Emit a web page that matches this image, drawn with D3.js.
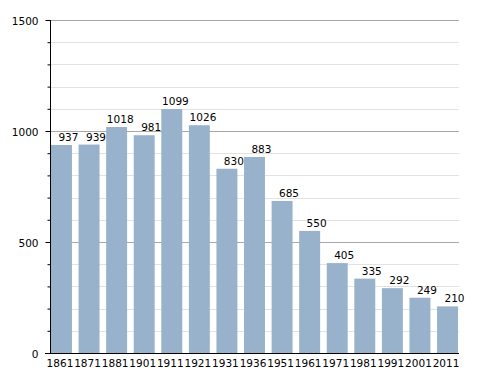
<!DOCTYPE html>
<html><head><meta charset="utf-8">
<script src="https://cdn.jsdelivr.net/npm/d3@7"></script>
<style>body{margin:0;background:#fff}svg{display:block}text{font-family:"DejaVu Sans",sans-serif;font-size:10.5px;fill:#000}</style>
</head><body>
<script>
const years = ["1861","1871","1881","1901","1911","1921","1931","1936","1951","1961","1971","1981","1991","2001","2011"];
const population = [937,939,1018,981,1099,1026,830,883,685,550,405,335,292,249,210];
const majorTicks = [0,500,1000,1500];
const minorTicks = d3.range(0,1501,100);

const W=488,H=373;
const svg=d3.select("body").append("svg").attr("width",W).attr("height",H);
const x=d3.scaleBand().domain(years).range([51,458]).paddingInner(0.24).paddingOuter(0);
const y=d3.scaleLinear().domain([0,1500]).range([353,20]);

// minor grid
svg.append("g").selectAll("line").data(minorTicks.filter(d=>d%500!==0)).join("line")
 .attr("x1",50).attr("x2",459).attr("y1",d=>Math.round(y(d))+0.5).attr("y2",d=>Math.round(y(d))+0.5)
 .attr("stroke","#e2e2e2").attr("stroke-width",1);
// major grid
svg.append("g").selectAll("line").data(majorTicks.filter(d=>d>0)).join("line")
 .attr("x1",50).attr("x2",459).attr("y1",d=>Math.round(y(d))+0.5).attr("y2",d=>Math.round(y(d))+0.5)
 .attr("stroke","#a8a8a8").attr("stroke-width",1);

// bars
svg.append("g").selectAll("rect").data(population).join("rect")
 .attr("x",(d,i)=>x(years[i])).attr("width",x.bandwidth())
 .attr("y",d=>y(d)).attr("height",d=>y(0)-y(d)).attr("fill","#99b2cb");

// value labels
svg.append("g").selectAll("text").data(population).join("text")
 .attr("x",(d,i)=>x(years[i])+x.bandwidth()+6.5).attr("y",d=>y(d)-4)
 .attr("text-anchor","end").text(d=>d);

// y axis
const ya=svg.append("g").attr("transform","translate(50.5,0)")
 .call(d3.axisLeft(y).tickValues(minorTicks).tickSize(3).tickFormat(d=>d%500===0?d:""));
ya.select(".domain").attr("stroke","#000").attr("d","M0,20V353");
ya.selectAll(".tick line").attr("stroke","#000").attr("x2",d=>d%500===0?-5:-3);
ya.selectAll(".tick text").attr("x",-12).attr("dy","0.38em").style("font-size","10.5px").style("font-family","DejaVu Sans");

// x axis
const xa=svg.append("g").attr("transform","translate(0,353.5)")
 .call(d3.axisBottom(x).tickSize(0));
xa.select(".domain").attr("stroke","#000").attr("d","M45,0H459");
xa.selectAll(".tick text").attr("dy","0").attr("x",-1.5).attr("y",13).style("font-size","10.5px").style("font-family","DejaVu Sans");
</script>
</body></html>
